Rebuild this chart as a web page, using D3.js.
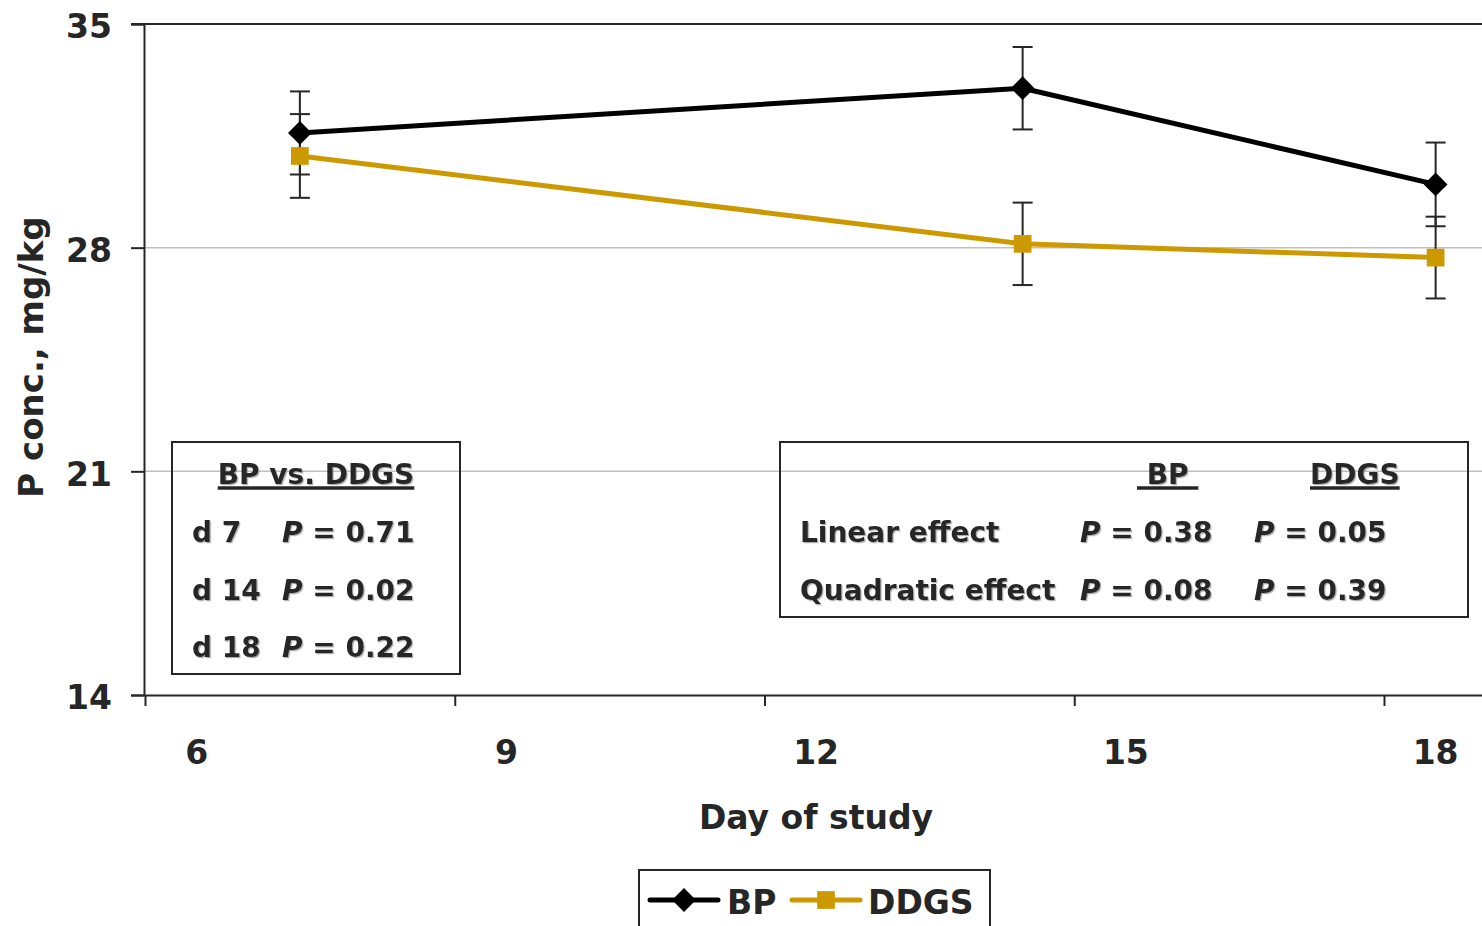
<!DOCTYPE html>
<html>
<head>
<meta charset="utf-8">
<script src="https://cdn.jsdelivr.net/npm/d3@7"></script>
<style>
  html, body { margin: 0; padding: 0; background: #fff; overflow: hidden; }
  svg { display: block; font-family: "DejaVu Sans", Verdana, sans-serif; font-weight: bold; }
</style>
</head>
<body>
<div id="chart"></div>
<script>
// P concentration by day of study, BP vs DDGS

const days = [7, 14, 18];
const bpValues = [31.59, 32.99, 29.98];
const bpErrors = [1.30, 1.29, 1.31];
const ddgsValues = [30.87, 28.12, 27.69];
const ddgsErrors = [1.31, 1.29, 1.28];

const yTicks = [14, 21, 28, 35];
const xTickMarks = [5.5, 8.5, 11.5, 14.5, 17.5];
const xTickLabels = [6, 9, 12, 15, 18];

const compareRows = [
    { label: "d 7", p: "0.71" },
    { label: "d 14", p: "0.02" },
    { label: "d 18", p: "0.22" }
];
const effectRows = [
    { label: "Linear effect", bp: "0.38", ddgs: "0.05" },
    { label: "Quadratic effect", bp: "0.08", ddgs: "0.39" }
];

const width = 1482;
const height = 926;
const ink = "#262626";
const gold = "#cc9900";

const svg = d3.select("#chart").append("svg")
    .attr("width", width)
    .attr("height", height);

const defs = svg.append("defs");
const shadow = defs.append("filter").attr("id", "shadow")
    .attr("x", "-5%").attr("y", "-5%").attr("width", "110%").attr("height", "120%");
shadow.append("feDropShadow")
    .attr("dx", 1.2).attr("dy", 1.2).attr("stdDeviation", 0.4)
    .attr("flood-color", "#999").attr("flood-opacity", 0.8);

const x = d3.scaleLinear().domain([5.5, 18.5]).range([145, 145 + 13 * 103.25]);
const y = d3.scaleLinear().domain([14, 35]).range([695, 24]);

// gridlines
svg.append("g")
    .selectAll("line")
    .data(yTicks.filter(d => d > 14))
    .join("line")
    .attr("x1", d => d === 35 ? 131 : 144)
    .attr("x2", width)
    .attr("y1", d => y(d))
    .attr("y2", d => y(d))
    .attr("stroke", d => d === 35 ? ink : "#c0c0c0")
    .attr("stroke-width", d => d === 35 ? 2 : 1.5);

// Y axis
svg.append("g")
    .attr("transform", "translate(144,0)")
    .call(d3.axisLeft(y).tickValues(yTicks).tickSize(13).tickPadding(19).tickFormat(d3.format("d")))
    .call(g => g.select(".domain").attr("stroke", ink).attr("stroke-width", 2))
    .call(g => g.selectAll(".tick line").attr("stroke", ink).attr("stroke-width", 2))
    .call(g => g.selectAll(".tick text")
        .attr("fill", ink)
        .attr("dy", "0.42em")
        .style("font-family", "DejaVu Sans")
        .style("font-weight", "bold")
        .style("font-size", "33px"));

// X axis: tick marks between the labels
svg.append("g")
    .attr("transform", `translate(0,${y(14)})`)
    .call(d3.axisBottom(x).tickValues(xTickMarks).tickSize(11).tickSizeOuter(0).tickFormat(""))
    .call(g => g.select(".domain").attr("stroke", ink).attr("stroke-width", 2))
    .call(g => g.selectAll(".tick line").attr("stroke", ink).attr("stroke-width", 2));

svg.append("g")
    .selectAll("text")
    .data(xTickLabels)
    .join("text")
    .attr("x", d => x(d))
    .attr("y", 764)
    .attr("text-anchor", "middle")
    .attr("fill", ink)
    .style("font-size", "33px")
    .text(d => d);

// Axis titles
svg.append("text")
    .attr("x", 816)
    .attr("y", 829)
    .attr("text-anchor", "middle")
    .attr("fill", ink)
    .style("font-size", "33px")
    .text("Day of study");

svg.append("text")
    .attr("transform", "translate(43,357) rotate(-90)")
    .attr("text-anchor", "middle")
    .attr("fill", ink)
    .style("font-size", "34px")
    .text("P conc., mg/kg");

// Series
const series = [
    { name: "BP", values: bpValues, errors: bpErrors, color: "#000", symbol: d3.symbolDiamond2, size: 360 },
    { name: "DDGS", values: ddgsValues, errors: ddgsErrors, color: gold, symbol: d3.symbolSquare2, size: 400 }
];

const line = d3.line()
    .x((d, i) => x(days[i]))
    .y(d => y(d));

// error bars first
series.forEach(s => {
    const eb = svg.append("g").attr("stroke", ink).attr("stroke-width", 2);
    s.values.forEach((v, i) => {
        const cx = x(days[i]);
        eb.append("line")
            .attr("x1", cx).attr("x2", cx)
            .attr("y1", y(v + s.errors[i])).attr("y2", y(v - s.errors[i]));
        [v + s.errors[i], v - s.errors[i]].forEach(e => {
            eb.append("line")
                .attr("x1", cx - 10).attr("x2", cx + 10)
                .attr("y1", y(e)).attr("y2", y(e));
        });
    });
});

series.forEach(s => {
    svg.append("path")
        .datum(s.values)
        .attr("fill", "none")
        .attr("stroke", s.color)
        .attr("stroke-width", 5)
        .attr("stroke-linejoin", "round")
        .attr("d", line);

    svg.append("g")
        .selectAll("path")
        .data(s.values)
        .join("path")
        .attr("transform", (d, i) => `translate(${x(days[i])},${y(d)})`)
        .attr("d", d3.symbol().type(s.symbol).size(s.size))
        .attr("fill", s.color);
});

// underline helper
function underline(textSel, y0) {
    const node = textSel.node();
    const len = node.getComputedTextLength();
    const anchor = textSel.attr("text-anchor");
    const xs = anchor === "middle" ? +textSel.attr("x") - len / 2 : +textSel.attr("x");
    svg.append("line")
        .attr("x1", xs).attr("x2", xs + len)
        .attr("y1", y0).attr("y2", y0)
        .attr("stroke", ink)
        .attr("stroke-width", 3.5);
}

function pText(g, xPos, yPos, val) {
    const t = g.append("text")
        .attr("x", xPos)
        .attr("y", yPos)
        .attr("fill", ink)
        .style("font-size", "28px");
    t.append("tspan").style("font-style", "italic").text("P");
    t.append("tspan").text(" = " + val);
    return t;
}

// Left box: BP vs DDGS
const leftBox = svg.append("g");
leftBox.append("rect")
    .attr("x", 172).attr("y", 442)
    .attr("width", 288).attr("height", 232)
    .attr("fill", "none")
    .attr("stroke", ink)
    .attr("stroke-width", 2);

const leftText = leftBox.append("g").attr("filter", "url(#shadow)");
const lhead = leftText.append("text")
    .attr("x", 316).attr("y", 484)
    .attr("text-anchor", "middle")
    .attr("fill", ink)
    .style("font-size", "28px")
    .text("BP vs. DDGS");
underline(lhead, 488);

compareRows.forEach((r, i) => {
    const yy = 542 + i * 57.5;
    leftText.append("text")
        .attr("x", 192).attr("y", yy)
        .attr("fill", ink)
        .style("font-size", "28px")
        .text(r.label);
    pText(leftText, 282, yy, r.p);
});

// Right box: linear/quadratic effects
const rightBox = svg.append("g");
rightBox.append("rect")
    .attr("x", 780).attr("y", 442)
    .attr("width", 688).attr("height", 175)
    .attr("fill", "none")
    .attr("stroke", ink)
    .attr("stroke-width", 2);

const rightText = rightBox.append("g").attr("filter", "url(#shadow)");
const rh1 = rightText.append("text")
    .attr("x", 1137).attr("y", 484)
    .attr("fill", ink)
    .style("font-size", "28px")
    .text("\u00a0BP\u00a0");
underline(rh1, 488);
const rh2 = rightText.append("text")
    .attr("x", 1310).attr("y", 484)
    .attr("fill", ink)
    .style("font-size", "28px")
    .text("DDGS");
underline(rh2, 488);

effectRows.forEach((r, i) => {
    const yy = 542 + i * 58;
    rightText.append("text")
        .attr("x", 800).attr("y", yy)
        .attr("fill", ink)
        .style("font-size", "28px")
        .text(r.label);
    pText(rightText, 1080, yy, r.bp);
    pText(rightText, 1254, yy, r.ddgs);
});

// Legend
const legend = svg.append("g");
legend.append("rect")
    .attr("x", 639).attr("y", 870)
    .attr("width", 351).attr("height", 80)
    .attr("fill", "none")
    .attr("stroke", ink)
    .attr("stroke-width", 2);

const legendItems = [
    { s: series[0], x0: 650, tx: 727 },
    { s: series[1], x0: 792, tx: 868 }
];
legendItems.forEach(li => {
    legend.append("line")
        .attr("x1", li.x0).attr("x2", li.x0 + 68)
        .attr("y1", 900).attr("y2", 900)
        .attr("stroke", li.s.color)
        .attr("stroke-width", 5)
        .attr("stroke-linecap", "round");
    legend.append("path")
        .attr("transform", `translate(${li.x0 + 34},900)`)
        .attr("d", d3.symbol().type(li.s.symbol).size(li.s.size))
        .attr("fill", li.s.color);
    legend.append("text")
        .attr("x", li.tx).attr("y", 914)
        .attr("fill", ink)
        .style("font-size", "33px")
        .text(li.s.name);
});
</script>
</body>
</html>
